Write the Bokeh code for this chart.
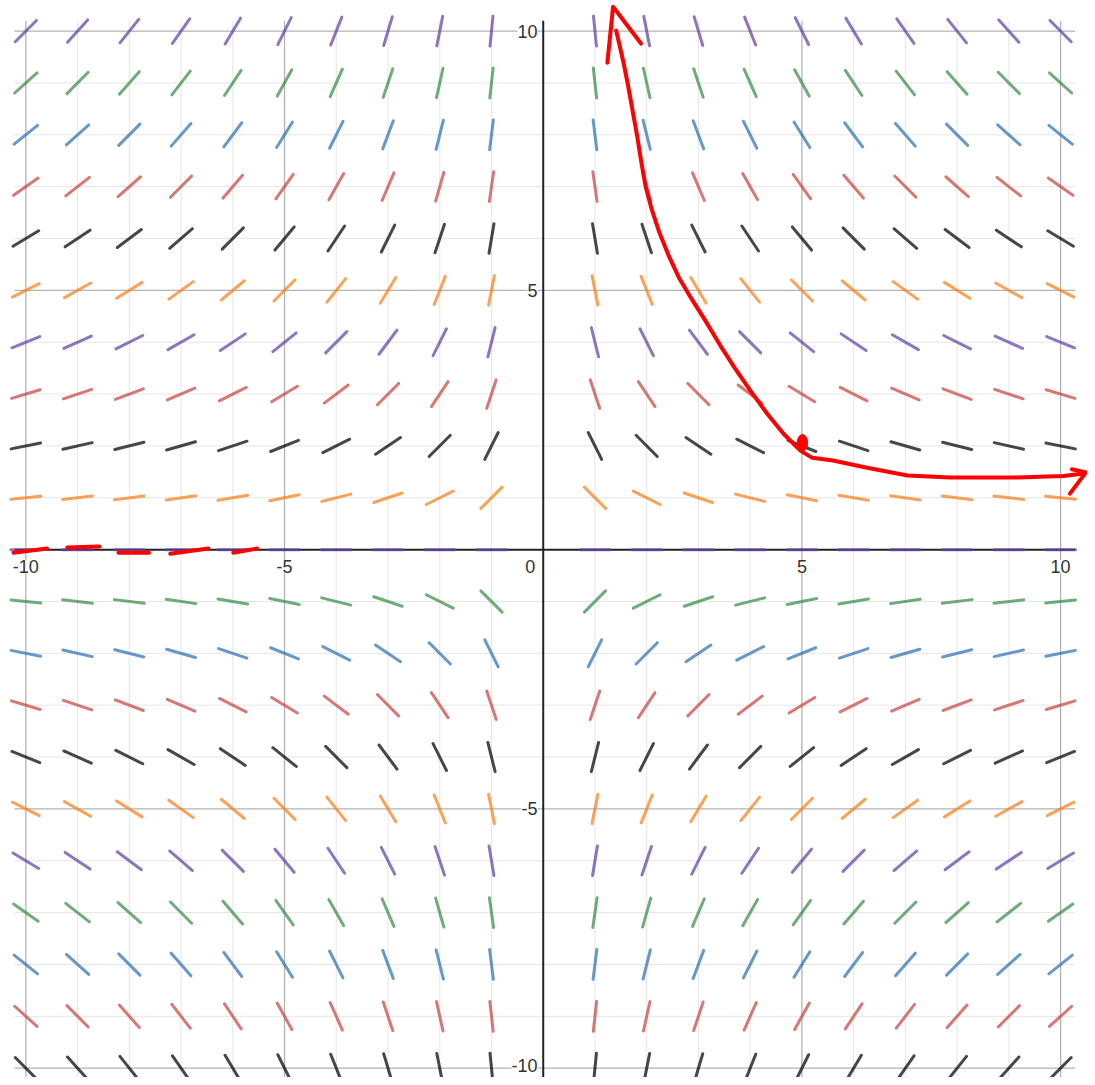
import numpy as np
from bokeh.plotting import figure
from bokeh.models import Range1d, Label
from bokeh.embed import file_html
from bokeh.resources import INLINE

# ---- data ----
# slope field of dy/dx = -y/x, sampled on integer grid (x = 0 excluded)
x_cols = [-10, -9, -8, -7, -6, -5, -4, -3, -2, -1, 1, 2, 3, 4, 5, 6, 7, 8, 9, 10]
y_rows = [10, 9, 8, 7, 6, 5, 4, 3, 2, 1, 0, -1, -2, -3, -4, -5, -6, -7, -8, -9, -10]
row_colors = ["purple", "green", "blue", "red", "black", "orange", "purple", "red",
              "black", "orange", "purple", "green", "blue", "red", "black", "orange",
              "purple", "green", "blue", "red", "black"]
minor_ticks = list(range(-10, 11))
major_ticks = [-10, -5, 5, 10]
x_tick_labels = ["-10", "-5", "0", "5", "10"]
x_tick_vals = [-10, -5, 0, 5, 10]
y_tick_labels = ["10", "5", "-5", "-10"]
y_tick_vals = [10, 5, -5, -10]

# hand-drawn red solution curve (through (5, 2)) and annotations
curve_x = [1.41, 1.47, 1.55, 1.64, 1.73, 1.82, 1.90, 1.98, 2.10, 2.25, 2.42, 2.62, 2.84,
           3.13, 3.42, 3.71, 4.00, 4.33, 4.64, 4.97, 5.20, 5.60, 6.26, 7.04, 7.87, 9.16,
           10.05, 10.45]
curve_y = [10.01, 9.75, 9.40, 8.95, 8.45, 7.95, 7.45, 7.00, 6.55, 6.10, 5.68, 5.25, 4.88,
           4.42, 3.94, 3.49, 3.07, 2.62, 2.24, 1.91, 1.77, 1.72, 1.58, 1.43, 1.39, 1.39,
           1.42, 1.47]
top_arrow_x = [1.24, 1.35, 1.89]
top_arrow_y = [9.39, 10.47, 9.76]
right_arrow_x = [10.22, 10.49, 10.18]
right_arrow_y = [1.55, 1.49, 1.08]
dash_x0 = [-10.24, -9.20, -8.21, -7.21, -5.99]
dash_x1 = [-9.59, -8.58, -7.62, -6.47, -5.53]
dash_y0 = [-0.06, 0.04, -0.06, -0.08, -0.06]
dash_y1 = [0.02, 0.06, -0.06, 0.02, 0.02]
dot_x = [5.01]
dot_y = [2.06]

# ---- styling ----
palette = {"red": "#c74440", "blue": "#2d70b3", "green": "#388c46",
           "purple": "#6042a6", "orange": "#fa7e19", "black": "#000000"}
X_LO, X_HI = -10.22, 10.28
Y_LO, Y_HI = -10.6, 10.20
HALF = 0.29

p = figure(width=1087, height=1077, output_backend="svg", toolbar_location=None,
           x_range=Range1d(-10.49, 10.52), y_range=Range1d(-10.18, 10.59),
           min_border=0, min_border_left=0, min_border_right=0,
           min_border_top=0, min_border_bottom=0)
p.axis.visible = False
p.grid.visible = False
p.outline_line_color = None
p.background_fill_color = "white"

# minor grid
minor = [t for t in minor_ticks if t not in major_ticks and t != 0]
p.segment(x0=minor, y0=[Y_LO] * len(minor), x1=minor, y1=[Y_HI] * len(minor),
          line_color="#e6e6e6", line_width=1)
p.segment(x0=[X_LO] * len(minor), y0=minor, x1=[X_HI] * len(minor), y1=minor,
          line_color="#e6e6e6", line_width=1)
# major grid
p.segment(x0=major_ticks, y0=[Y_LO] * 4, x1=major_ticks, y1=[Y_HI] * 4,
          line_color="#b3b3b3", line_width=1.3)
p.segment(x0=[X_LO] * 4, y0=major_ticks, x1=[X_HI] * 4, y1=major_ticks,
          line_color="#b3b3b3", line_width=1.3)
# axes
p.segment(x0=[0, X_LO], y0=[Y_LO, 0], x1=[0, X_HI], y1=[Y_HI, 0],
          line_color="#222222", line_width=2)

# slope field segments
sx0, sy0, sx1, sy1, scol = [], [], [], [], []
for y, cname in zip(y_rows, row_colors):
    for x in x_cols:
        m = -y / x
        n = np.hypot(1.0, m)
        dx, dy = HALF / n, HALF * m / n
        sx0.append(x - dx); sy0.append(y - dy)
        sx1.append(x + dx); sy1.append(y + dy)
        scol.append(palette[cname])
p.segment(x0=sx0, y0=sy0, x1=sx1, y1=sy1, line_color=scol, line_width=3,
          line_alpha=0.72, line_cap="round")

# tick labels
for v, t in zip(y_tick_vals, y_tick_labels):
    yy = -9.95 if v == -10 else v
    p.add_layout(Label(x=-0.11, y=yy, text=t, text_align="right", text_baseline="middle",
                       text_font="Liberation Sans", text_font_size="18px", text_color="#333333",
                       background_fill_color="white"))
for v, t in zip(x_tick_vals, x_tick_labels):
    xx = -0.25 if v == 0 else v
    p.add_layout(Label(x=xx, y=-0.33, text=t, text_align="center", text_baseline="middle",
                       text_font="Liberation Sans", text_font_size="18px", text_color="#333333",
                       background_fill_color="white"))

# red hand-drawn annotations
RED = "#ff0000"
p.line(curve_x, curve_y, line_color=RED, line_width=4, line_cap="round", line_join="round")
p.line(top_arrow_x, top_arrow_y, line_color=RED, line_width=4, line_cap="round", line_join="round")
p.line(right_arrow_x, right_arrow_y, line_color=RED, line_width=4, line_cap="round", line_join="round")
p.segment(x0=dash_x0, y0=dash_y0, x1=dash_x1, y1=dash_y1, line_color=RED, line_width=4,
          line_cap="round")
p.ellipse(x=dot_x, y=dot_y, width=0.2, height=0.32, fill_color=RED, line_color=RED)

open("out.html", "w").write(file_html(p, INLINE))
